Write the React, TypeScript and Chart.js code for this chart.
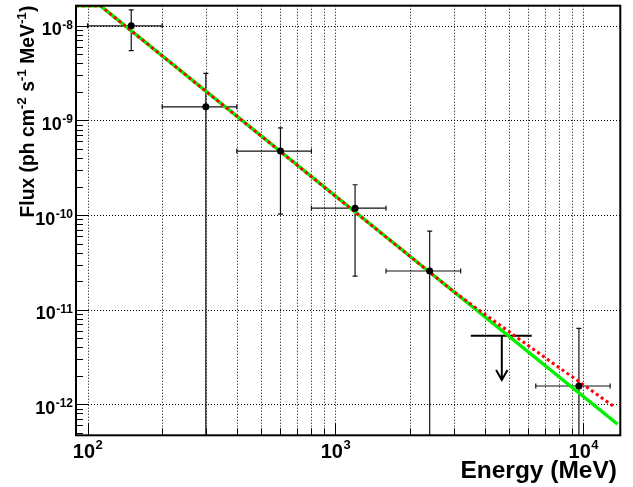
import React, { useEffect, useRef } from "react";
import { Chart, registerables } from "chart.js";

Chart.register(...registerables);

// ---- axis ranges ----
const X_MIN = 89.8;
const X_MAX = 14100;
const Y_MIN = 4.7e-13;
const Y_MAX = 1.63e-8;

// ---- data points (bin centres, flux, errors) ----
const energy = [150, 300, 600, 1200, 2400, 9600];
const flux = [1.0e-8, 1.39e-9, 4.74e-10, 1.18e-10, 2.56e-11, 1.56e-12];
const energyLow = [100, 200, 400, 800, 1600, 6430];
const energyHigh = [200, 400, 800, 1600, 3200, 12830];
const fluxHigh = [1.47e-8, 3.14e-9, 8.35e-10, 2.09e-10, 6.77e-11, 6.35e-12];
const fluxLow = [5.45e-9, 1e-14, 1.02e-10, 2.26e-11, 1e-14, 1e-14];

// ---- upper limit ----
const ulEnergy = [4690];
const ulEnergyLow = [3516];
const ulEnergyHigh = [6194];
const ulFlux = [5.31e-12];
const ulArrowTip = [1.81e-12];

// ---- fitted models ----
const greenEnergy = [89.8, 112.5, 13760];
const greenFlux = [1.63e-8, 1.63e-8, 6.15e-13];
const redEnergy = [89.8, 112.5, 1000, 3000, 5700, 13430];
const redFlux = [1.63e-8, 1.63e-8, 1.58e-10, 1.55e-11, 4.58e-12, 9.29e-13];

// ---- ticks ----
const xMajorTicks = [100, 1000, 10000];
const xMajorExp = ["2", "3", "4"];
const xMinorTicks = [200, 300, 400, 500, 600, 700, 800, 900, 2000, 3000, 4000, 5000, 6000, 7000, 8000, 9000];
const yMajorTicks = [1e-8, 1e-9, 1e-10, 1e-11, 1e-12];
const yMajorExp = ["-8", "-9", "-10", "-11", "-12"];
const yMinorMultipliers = [2, 3, 4, 5, 6, 7, 8, 9];
const yDecades = [1e-13, 1e-12, 1e-11, 1e-10, 1e-9, 1e-8];

const xTitle = "Energy (MeV)";
const yTitleParts: { t: string; sup: boolean }[] = [
  { t: "Flux (ph cm", sup: false },
  { t: "-2", sup: true },
  { t: " s", sup: false },
  { t: "-1", sup: true },
  { t: " MeV", sup: false },
  { t: "-1", sup: true },
  { t: ")", sup: false },
];

const FONT = '"Liberation Sans", Arial, Helvetica, sans-serif';

const toXY = (xs: number[], ys: number[]) => xs.map((v, i) => ({ x: v, y: ys[i] }));

const rootPlugin = {
  id: "rootStyle",
  beforeDatasetsDraw(chart: any) {
    const { ctx, chartArea: a, scales } = chart;
    const sx = scales.x;
    const sy = scales.y;
    ctx.save();
    // dotted grid
    ctx.strokeStyle = "#000";
    ctx.lineWidth = 1;
    ctx.setLineDash([1, 2]);
    const xg = [...xMajorTicks, ...xMinorTicks];
    for (const v of xg) {
      const px = Math.round(sx.getPixelForValue(v)) + 0.5;
      ctx.beginPath();
      ctx.moveTo(px, a.top);
      ctx.lineTo(px, a.bottom);
      ctx.stroke();
    }
    for (const v of yMajorTicks) {
      const py = Math.round(sy.getPixelForValue(v)) + 0.5;
      ctx.beginPath();
      ctx.moveTo(a.left, py);
      ctx.lineTo(a.right, py);
      ctx.stroke();
    }
    ctx.setLineDash([]);

    // error bars
    ctx.beginPath();
    ctx.rect(a.left, a.top, a.right - a.left, a.bottom - a.top);
    ctx.clip();
    ctx.strokeStyle = "#111";
    ctx.lineWidth = 1.2;
    const cap = 2.5;
    for (let i = 0; i < energy.length; i++) {
      const cx = sx.getPixelForValue(energy[i]);
      const cy = sy.getPixelForValue(flux[i]);
      const x1 = sx.getPixelForValue(energyLow[i]);
      const x2 = sx.getPixelForValue(energyHigh[i]);
      const y1 = sy.getPixelForValue(fluxHigh[i]);
      const y2 = sy.getPixelForValue(fluxLow[i]);
      ctx.beginPath();
      ctx.moveTo(x1, cy);
      ctx.lineTo(x2, cy);
      ctx.moveTo(x1, cy - cap);
      ctx.lineTo(x1, cy + cap);
      ctx.moveTo(x2, cy - cap);
      ctx.lineTo(x2, cy + cap);
      ctx.moveTo(cx, y1);
      ctx.lineTo(cx, y2);
      ctx.moveTo(cx - cap, y1);
      ctx.lineTo(cx + cap, y1);
      ctx.moveTo(cx - cap, y2);
      ctx.lineTo(cx + cap, y2);
      ctx.stroke();
    }
    // upper limit
    ctx.strokeStyle = "#000";
    ctx.lineWidth = 2;
    for (let i = 0; i < ulEnergy.length; i++) {
      const cx = sx.getPixelForValue(ulEnergy[i]);
      const cy = sy.getPixelForValue(ulFlux[i]);
      const x1 = sx.getPixelForValue(ulEnergyLow[i]);
      const x2 = sx.getPixelForValue(ulEnergyHigh[i]);
      const ty = sy.getPixelForValue(ulArrowTip[i]);
      ctx.beginPath();
      ctx.moveTo(x1, cy);
      ctx.lineTo(x2, cy);
      ctx.moveTo(cx, cy);
      ctx.lineTo(cx, ty);
      ctx.moveTo(cx - 5.7, ty - 10);
      ctx.lineTo(cx, ty);
      ctx.lineTo(cx + 5.7, ty - 10);
      ctx.stroke();
    }
    ctx.restore();
  },
  afterDraw(chart: any) {
    const { ctx, chartArea: a, scales } = chart;
    const sx = scales.x;
    const sy = scales.y;
    ctx.save();
    ctx.strokeStyle = "#000";
    ctx.lineWidth = 1;
    // x ticks
    for (const v of xMajorTicks) {
      const px = Math.round(sx.getPixelForValue(v)) + 0.5;
      ctx.beginPath();
      ctx.moveTo(px, a.bottom);
      ctx.lineTo(px, a.bottom - 12);
      ctx.stroke();
    }
    for (const v of xMinorTicks) {
      const px = Math.round(sx.getPixelForValue(v)) + 0.5;
      ctx.beginPath();
      ctx.moveTo(px, a.bottom);
      ctx.lineTo(px, a.bottom - 7);
      ctx.stroke();
    }
    // y ticks
    for (const v of yMajorTicks) {
      const py = Math.round(sy.getPixelForValue(v)) + 0.5;
      ctx.beginPath();
      ctx.moveTo(a.left, py);
      ctx.lineTo(a.left + 12, py);
      ctx.stroke();
    }
    for (const d of yDecades) {
      for (const m of yMinorMultipliers) {
        const v = d * m;
        if (v < Y_MIN || v > Y_MAX) continue;
        const py = Math.round(sy.getPixelForValue(v)) + 0.5;
        ctx.beginPath();
        ctx.moveTo(a.left, py);
        ctx.lineTo(a.left + 7, py);
        ctx.stroke();
      }
    }
    // frame
    ctx.lineWidth = 2;
    ctx.strokeRect(a.left, a.top, a.right - a.left, a.bottom - a.top);

    // tick labels
    ctx.fillStyle = "#000";
    ctx.textBaseline = "alphabetic";
    const mainY = `bold 18px ${FONT}`;
    const supY = `bold 12px ${FONT}`;
    for (let i = 0; i < yMajorTicks.length; i++) {
      const py = sy.getPixelForValue(yMajorTicks[i]);
      ctx.font = supY;
      const we = ctx.measureText(yMajorExp[i]).width;
      ctx.font = mainY;
      const wb = ctx.measureText("10").width;
      const right = 73;
      ctx.textAlign = "left";
      ctx.fillText("10", right - we - wb - 0.5, py + 9.5);
      ctx.font = supY;
      ctx.fillText(yMajorExp[i], right - we, py + 3);
    }
    const mainX = `bold 20px ${FONT}`;
    const supX = `bold 13px ${FONT}`;
    for (let i = 0; i < xMajorTicks.length; i++) {
      const px = sx.getPixelForValue(xMajorTicks[i]);
      ctx.font = supX;
      const we = ctx.measureText(xMajorExp[i]).width;
      ctx.font = mainX;
      const wb = ctx.measureText("10").width;
      const left = px - (wb + we) / 2;
      ctx.textAlign = "left";
      ctx.fillText("10", left, 457.5);
      ctx.font = supX;
      ctx.fillText(xMajorExp[i], left + wb + 0.5, 448.5);
    }

    // x title
    ctx.font = `bold 24.5px ${FONT}`;
    ctx.textAlign = "right";
    ctx.fillText(xTitle, 617, 477.5);

    // y title (rotated)
    const mainT = `bold 19.3px ${FONT}`;
    const supT = `bold 13.5px ${FONT}`;
    let total = 0;
    for (const p of yTitleParts) {
      ctx.font = p.sup ? supT : mainT;
      total += ctx.measureText(p.t).width;
    }
    ctx.translate(33.5, a.top);
    ctx.rotate(-Math.PI / 2);
    ctx.textAlign = "left";
    let u = -total;
    for (const p of yTitleParts) {
      ctx.font = p.sup ? supT : mainT;
      ctx.fillText(p.t, u, p.sup ? -7.5 : 0);
      u += ctx.measureText(p.t).width;
    }
    ctx.restore();
  },
};

export default function App() {
  const ref = useRef<HTMLCanvasElement | null>(null);
  useEffect(() => {
    if (!ref.current) return;
    const chart = new Chart(ref.current, {
      type: "scatter",
      data: {
        datasets: [
          {
            label: "Flux points",
            data: toXY(energy, flux),
            pointRadius: 3.5,
            pointBackgroundColor: "#000",
            pointBorderColor: "#000",
            pointBorderWidth: 0,
            showLine: false,
          },
          {
            label: "Model 2",
            data: toXY(redEnergy, redFlux),
            showLine: true,
            borderColor: "#ff0000",
            borderWidth: 3,
            borderDash: [3, 3],
            pointRadius: 0,
            tension: 0,
          },
          {
            label: "Model 1",
            data: toXY(greenEnergy, greenFlux),
            showLine: true,
            borderColor: "#00f000",
            borderWidth: 3.5,
            pointRadius: 0,
            tension: 0,
          },
        ],
      },
      options: {
        responsive: false,
        animation: false,
        devicePixelRatio: 1,
        layout: { padding: { left: 76, right: 12.7, top: 5.7, bottom: 51.7 } },
        plugins: { legend: { display: false }, tooltip: { enabled: false } },
        scales: {
          x: { type: "logarithmic", min: X_MIN, max: X_MAX, display: false },
          y: { type: "logarithmic", min: Y_MIN, max: Y_MAX, display: false },
        },
      },
      plugins: [rootPlugin],
    });
    return () => chart.destroy();
  }, []);
  return (
    <div style={{ position: "absolute", left: 0, top: 0, width: 633, height: 487, background: "#fff" }}>
      <canvas ref={ref} width={633} height={487} style={{ display: "block" }} />
    </div>
  );
}
